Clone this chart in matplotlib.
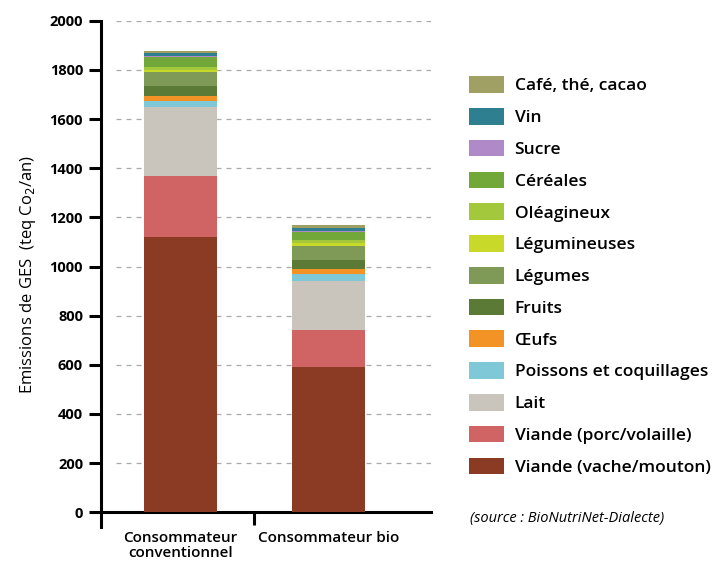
import matplotlib.pyplot as plt
from matplotlib.patches import Patch

plt.rcParams['font.family'] = ['Open Sans', 'DejaVu Sans']

consumers = ['Consommateur\nconventionnel', 'Consommateur bio']

# stacking order, bottom -> top
categories = ['Viande (vache/mouton)', 'Viande (porc/volaille)', 'Lait',
              'Poissons et coquillages', 'Œufs', 'Fruits', 'Légumes',
              'Légumineuses', 'Oléagineux', 'Céréales', 'Sucre', 'Vin',
              'Café, thé, cacao']
conventionnel = [1120, 250, 280, 25, 20, 40, 55, 8, 15, 40, 5, 12, 8]
bio = [593, 147, 200, 30, 18, 40, 57, 10, 15, 32, 4, 10, 12]
colors = ['#8b3a23', '#d06464', '#c9c4bc', '#7ec8d8', '#f39325', '#5a7a35',
          '#7e9a56', '#c8d92a', '#a3c83c', '#72a83a', '#b08ac8', '#2e7f8f',
          '#a0a064']

fig = plt.figure(figsize=(7.17, 5.63), dpi=100)
ax = fig.add_axes([0.141, 0.064, 0.46, 0.899])

x = [0, 1]
bottoms = [0, 0]
for cat, v1, v2, c in zip(categories, conventionnel, bio, colors):
    ax.bar(x, [v1, v2], bottom=bottoms, width=0.49, color=c, zorder=3)
    bottoms = [bottoms[0] + v1, bottoms[1] + v2]

ax.set_ylim(-60, 2000)
ax.set_xlim(-0.534, 1.69)
ax.set_yticks(range(0, 2001, 200))
for t in range(200, 2001, 200):
    ax.plot([-0.534 + 0.1, 1.69], [t, t], color='#aaaaaa', lw=0.9,
            ls=(0, (4, 4)), zorder=1)

ax.spines['right'].set_visible(False)
ax.spines['top'].set_visible(False)
ax.spines['bottom'].set_position(('data', 0))
ax.spines['left'].set_linewidth(2.2)
ax.spines['bottom'].set_linewidth(2.2)
ax.tick_params(axis='y', length=9, width=2.2, labelsize=10.5, pad=4)
for lab in ax.get_yticklabels():
    lab.set_fontweight('bold')

ax.set_xticks([0.5])
ax.set_xticklabels([''])
ax.tick_params(axis='x', length=9, width=2.2)
for xi, name in zip(x, consumers):
    ax.text(xi, -78, name, ha='center', va='top', fontsize=11,
            fontweight='semibold', linespacing=1.05)

ax.set_ylabel('Emissions de GES  (teq Co$_2$/an)', fontsize=12,
              fontweight='medium', labelpad=8)

handles = [Patch(facecolor=c) for c in colors[::-1]]
fig.legend(handles, categories[::-1], loc='upper left',
           bbox_to_anchor=(0.645, 0.877), frameon=False,
           prop={'size': 12.5, 'weight': 'semibold'},
           handlelength=2.0, handleheight=1.1, labelspacing=0.78,
           handletextpad=0.6, borderaxespad=0)
fig.text(0.655, 0.073, '(source : BioNutriNet-Dialecte)', fontsize=10.5,
         style='italic')

fig.savefig('out.png', dpi=100)
